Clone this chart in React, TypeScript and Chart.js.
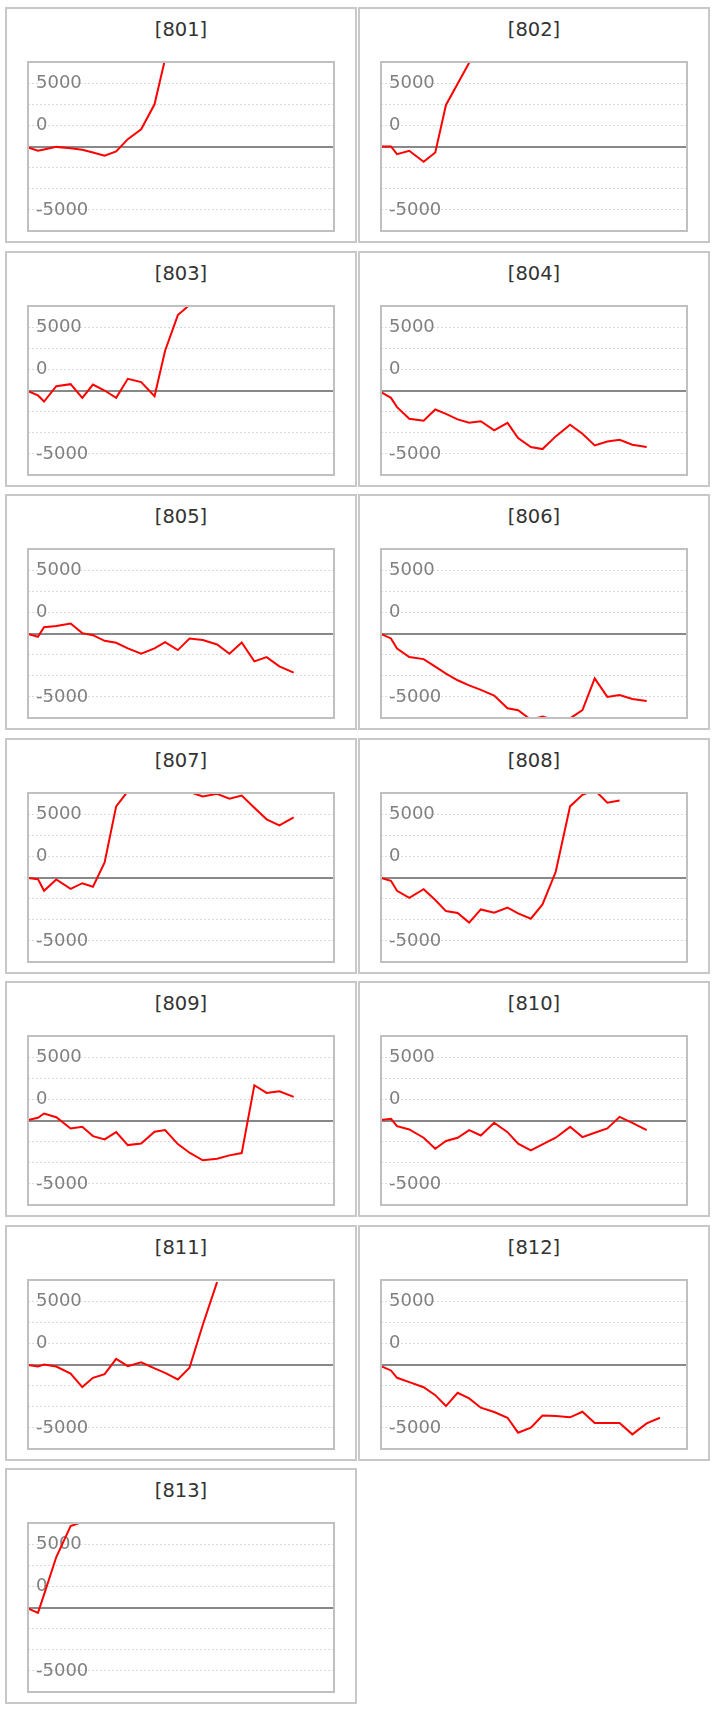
import React, { useEffect, useRef } from "react";
import { Chart, registerables } from "chart.js";

Chart.register(...registerables);

// panel titles
const panelIds = ["801", "802", "803", "804", "805", "806", "807", "808", "809", "810", "811", "812", "813"];

// elapsed trading days of each point (same for every panel)
const tradeDay = [
  0, 0.82, 1.32, 2.33, 3.51, 4.47, 5.35, 6.31, 7.26, 8.22, 9.32, 10.42,
  11.29, 12.34, 13.3, 14.39, 15.57, 16.59, 17.6, 18.64, 19.65, 20.7, 21.88, 22.97,
];

// cumulative result per panel
const s801 = [-80, -340, -240, -30, -130, -260, -470, -730, -390, 580, 1360, 3330, 6900];
const s802 = [0, 0, -600, -340, -1200, -470, 3280, 4950, 6600];
const s803 = [-50, -390, -870, 340, 500, -580, 470, 0, -580, 920, 660, -450, 3140, 5950, 6750];
const s804 = [
  -130, -580, -1310, -2230, -2390, -1500, -1840, -2280, -2550, -2420, -3150, -2550,
  -3750, -4460, -4620, -3620, -2700, -3410, -4330, -4020, -3890, -4280, -4460,
];
const s805 = [
  -30, -260, 500, 600, 790, 30, -130, -580, -730, -1180, -1600, -1180,
  -680, -1310, -390, -520, -870, -1600, -710, -2200, -1860, -2590, -3090,
];
const s806 = [
  -30, -390, -1180, -1860, -2020, -2620, -3170, -3690, -4090, -4450, -4900, -5900,
  -6050, -6800, -6550, -6850, -6700, -6050, -3540, -5000, -4850, -5160, -5320,
];
const s807 = [
  -30, -130, -1050, -160, -890, -450, -730, 1180, 5610, 6800, 7500, 7800,
  7600, 7200, 6750, 6390, 6600, 6210, 6470, 5500, 4590, 4110, 4740,
];
const s808 = [
  -30, -260, -1050, -1600, -920, -1780, -2650, -2800, -3560, -2520, -2780,
  -2380, -2830, -3250, -2120, 450, 5610, 6520, 6900, 5900, 6080,
];
const s809 = [
  30, 210, 550, 260, -630, -500, -1230, -1490, -920, -1940, -1810, -890,
  -760, -1860, -2540, -3140, -3010, -2750, -2570, 2780, 2180, 2310, 1860,
];
const s810 = [
  30, 130, -450, -710, -1360, -2230, -1620, -1360, -760, -1180, -180, -920,
  -1830, -2360, -1890, -1360, -500, -1310, -970, -630, 290, -180, -760,
];
const s811 = [-30, -160, 0, -160, -710, -1780, -1050, -760, 450, -130, 180, -310, -660, -1180, -260, 3120, 6500];
const s812 = [
  -130, -470, -1050, -1390, -1790, -2420, -3280, -2230, -2680, -3410, -3750, -4200,
  -5380, -4990, -4020, -4070, -4170, -3730, -4620, -4620, -4620, -5510, -4650, -4200,
];
const s813 = [-80, -420, 1020, 3980, 6420, 6750];

const seriesList = [s801, s802, s803, s804, s805, s806, s807, s808, s809, s810, s811, s812, s813];

// y grid lines inside the plot and the labels as the original prints them
const yGridValues = [-5000, -10000 / 3, -5000 / 3, 0, 5000 / 3, 10000 / 3, 5000];
const yGridLabels = ["-5000", "", "", "", "0", "", "5000"];
const yMin = -20000 / 3;
const yMax = 20000 / 3;
const xMax = 25.2;

// zero line under the data, plot frame over it
const framePlugin = {
  id: "frame",
  beforeDatasetsDraw(chart: any) {
    const { ctx, chartArea } = chart;
    const y = Math.round(chart.scales.y.getPixelForValue(0));
    ctx.save();
    ctx.strokeStyle = "#888888";
    ctx.lineWidth = 2;
    ctx.beginPath();
    ctx.moveTo(chartArea.left - 1, y);
    ctx.lineTo(chartArea.right + 1, y);
    ctx.stroke();
    ctx.restore();
  },
  afterDatasetsDraw(chart: any) {
    const { ctx, chartArea: a } = chart;
    ctx.save();
    ctx.strokeStyle = "#c0c0c0";
    ctx.lineWidth = 2;
    ctx.strokeRect(a.left, a.top, a.right - a.left, a.bottom - a.top);
    ctx.restore();
  },
};

const Panel: React.FC<{ title: string; values: number[]; left: number; top: number }> = ({
  title,
  values,
  left,
  top,
}) => {
  const canvasRef = useRef<HTMLCanvasElement | null>(null);
  const chartRef = useRef<Chart | null>(null);

  useEffect(() => {
    if (chartRef.current) {
      chartRef.current.destroy();
    }
    if (canvasRef.current) {
      const points = values.map((v, i) => ({ x: tradeDay[i], y: v }));
      chartRef.current = new Chart(canvasRef.current, {
        type: "line",
        data: {
          datasets: [
            {
              data: points,
              borderColor: "#ff0000",
              borderWidth: 2,
              pointRadius: 0,
              tension: 0,
              fill: false,
            },
          ],
        },
        options: {
          animation: false,
          responsive: false,
          maintainAspectRatio: false,
          events: [],
          layout: { padding: 1 },
          scales: {
            x: { type: "linear", display: false, min: 0, max: xMax },
            y: {
              type: "linear",
              min: yMin,
              max: yMax,
              afterFit: (scale: any) => {
                // labels sit inside the plot, so the axis takes no room
                scale.width = 0;
                scale.paddingTop = 0;
                scale.paddingBottom = 0;
              },
              afterBuildTicks: (scale: any) => {
                scale.ticks = yGridValues.map((v) => ({ value: v }));
              },
              grid: {
                drawTicks: false,
                color: (c: any) => (c.tick && c.tick.value === 0 ? "rgba(0,0,0,0)" : "#d9d9d9"),
                lineWidth: 1,
              },
              border: { display: false, dash: [2, 2] },
              ticks: {
                mirror: true,
                autoSkip: false,
                padding: 8,
                color: "#808080",
                font: { family: "DejaVu Sans", size: 18 },
                callback: (_v: any, i: number) => yGridLabels[i],
              },
            },
          },
          plugins: {
            legend: { display: false },
            tooltip: { enabled: false },
          },
        },
        plugins: [framePlugin],
      });
    }
    return () => {
      if (chartRef.current) {
        chartRef.current.destroy();
        chartRef.current = null;
      }
    };
  }, [values]);

  return (
    <div
      style={{
        position: "absolute",
        left,
        top,
        width: 352,
        height: 236,
        border: "2px solid #c8c8c8",
        boxSizing: "border-box",
        background: "#ffffff",
      }}
    >
      <div
        style={{
          position: "absolute",
          left: 0,
          top: 9,
          width: "100%",
          lineHeight: "24px",
          textAlign: "center",
          fontFamily: "DejaVu Sans",
          fontSize: 19.5,
          color: "#333333",
        }}
      >
        [{title}]
      </div>
      <div style={{ position: "absolute", left: 20, top: 52, width: 308, height: 171 }}>
        <canvas ref={canvasRef} width={308} height={171} style={{ display: "block", width: 308, height: 171 }} />
      </div>
    </div>
  );
};

export default function App() {
  return (
    <div style={{ position: "absolute", left: 0, top: 0, width: 716, height: 1710, background: "#ffffff" }}>
      {panelIds.map((id, i) => (
        <Panel
          key={id}
          title={id}
          values={seriesList[i]}
          left={5 + (i % 2) * 353}
          top={Math.round(7 + Math.floor(i / 2) * 243.5)}
        />
      ))}
    </div>
  );
}
